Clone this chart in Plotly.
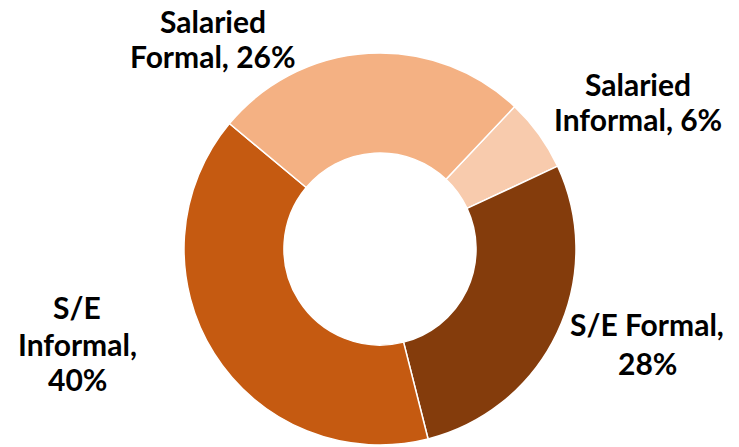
import plotly.graph_objects as go

categories = ["Salaried Informal", "S/E Formal", "S/E Informal", "Salaried Formal"]
values = [6, 28, 40, 26]
colors = ["#F8CBAD", "#843C0C", "#C55A11", "#F4B183"]
# wrapped label text for each category
label_lines = {
    "Salaried Informal": ["Salaried", "Informal, {p}%"],
    "S/E Formal": ["S/E Formal,", "{p}%"],
    "S/E Informal": ["S/E", "Informal,", "{p}%"],
    "Salaried Formal": ["Salaried", "Formal, {p}%"],
}
# label line positions in page pixels: (x centre, [y middle of each line])
label_pos = {
    "Salaried Informal": (638, [83, 118]),
    "S/E Formal": (647, [323, 362]),
    "S/E Informal": (77, [306, 343, 378]),
    "Salaried Formal": (213, [20, 55]),
}

W, H = 739, 447
OFF = 8  # default html body margin
total = sum(values)
start_angle = 43.4

cx, cy, r = 380 - OFF, 249 - OFF, 196

fig = go.Figure(go.Pie(
    labels=categories,
    values=values,
    hole=0.49,
    sort=False,
    direction="clockwise",
    rotation=start_angle,
    marker=dict(colors=colors, line=dict(color="white", width=1.5)),
    textinfo="none",
    hoverinfo="label+percent",
    showlegend=False,
    domain=dict(x=[(cx - r) / W, (cx + r) / W],
                y=[(H - (cy + r)) / H, (H - (cy - r)) / H]),
))

for cat, v in zip(categories, values):
    pct = round(100 * v / total)
    px, ys = label_pos[cat]
    for line, py in zip(label_lines[cat], ys):
        fig.add_annotation(
            x=(px - OFF) / W, y=1 - (py + 1 - OFF) / H, xref="paper", yref="paper",
            text=line.format(p=pct), showarrow=False, xanchor="center", yanchor="middle",
            align="center",
            font=dict(family="Lato, Open Sans, sans-serif", size=30, color="black", weight="bold"),
        )

fig.update_layout(
    width=W, height=H,
    margin=dict(l=0, r=0, t=0, b=0),
    paper_bgcolor="white",
    plot_bgcolor="white",
)

fig.write_html("out.html")
